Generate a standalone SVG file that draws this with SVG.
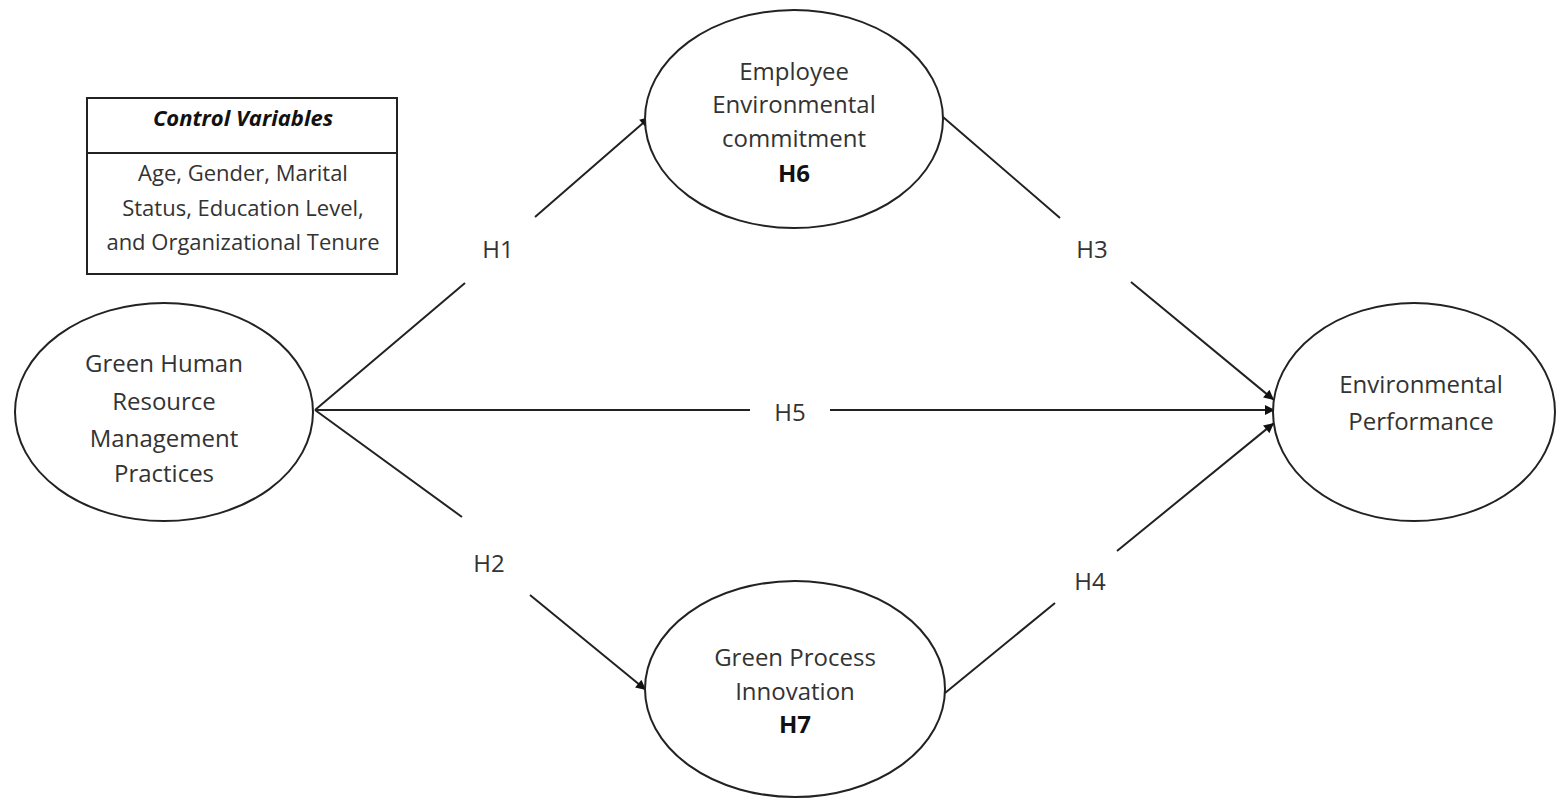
<svg xmlns="http://www.w3.org/2000/svg" width="1556" height="798" viewBox="0 0 1556 798">
<style>
.n{fill:#fff;stroke:#222;stroke-width:2}
.t{font-family:"Open Sans","Liberation Sans",sans-serif;font-size:24px;fill:#333;text-anchor:middle;dominant-baseline:central}
.s{font-size:22px}
.b{font-weight:bold;fill:#111}
.c{stroke:#222;stroke-width:2;fill:none}
</style>
<defs>
<marker id="ah" viewBox="0 0 10 10" refX="10" refY="5" markerWidth="11" markerHeight="10" markerUnits="userSpaceOnUse" orient="auto"><path d="M0,0 L10,5 L0,10 Z" fill="#111"/></marker>
</defs>
<rect width="1556" height="798" fill="#fff"/>
<g id="control">
<rect x="87" y="98" width="310" height="176" class="n"/>
<line x1="87" y1="153" x2="397" y2="153" class="c"/>
<text x="243" y="117" class="t s b" font-style="italic">Control Variables</text>
<text x="243" y="172" class="t s">Age, Gender, Marital</text>
<text x="243" y="207" class="t s">Status, Education Level,</text>
<text x="243" y="241" class="t s">and Organizational Tenure</text>
</g>
<g id="connectors">
<path class="c" d="M315,410 L465,283 M535,217 L650,117" marker-end="url(#ah)"/>
<path class="c" d="M315,410 L462,517 M530,595 L646,690" marker-end="url(#ah)"/>
<path class="c" d="M315,410 L750,410 M830,410 L1275,410" marker-end="url(#ah)"/>
<path class="c" d="M943,117 L1060,218 M1131,282 L1274,400" marker-end="url(#ah)"/>
<path class="c" d="M945,693 L1055,603 M1117,551 L1274,423" marker-end="url(#ah)"/>
<text x="498" y="248" class="t">H1</text>
<text x="489" y="562" class="t">H2</text>
<text x="1092" y="248" class="t">H3</text>
<text x="1090" y="580" class="t">H4</text>
<text x="790" y="411" class="t">H5</text>
</g>
<g id="ghrm">
<ellipse cx="164" cy="412" rx="149" ry="109" class="n"/>
<text x="164" y="362" class="t">Green Human</text>
<text x="164" y="400" class="t">Resource</text>
<text x="164" y="437" class="t">Management</text>
<text x="164" y="472" class="t">Practices</text>
</g>
<g id="eec">
<ellipse cx="794" cy="119" rx="149" ry="109" class="n"/>
<text x="794" y="70" class="t">Employee</text>
<text x="794" y="103" class="t">Environmental</text>
<text x="794" y="137" class="t">commitment</text>
<text x="794" y="172" class="t b">H6</text>
</g>
<g id="gpi">
<ellipse cx="795" cy="689" rx="150" ry="108" class="n"/>
<text x="795" y="656" class="t">Green Process</text>
<text x="795" y="690" class="t">Innovation</text>
<text x="795" y="723" class="t b">H7</text>
</g>
<g id="ep">
<ellipse cx="1414" cy="412" rx="141" ry="109" class="n"/>
<text x="1421" y="383" class="t">Environmental</text>
<text x="1421" y="420" class="t">Performance</text>
</g>
</svg>
